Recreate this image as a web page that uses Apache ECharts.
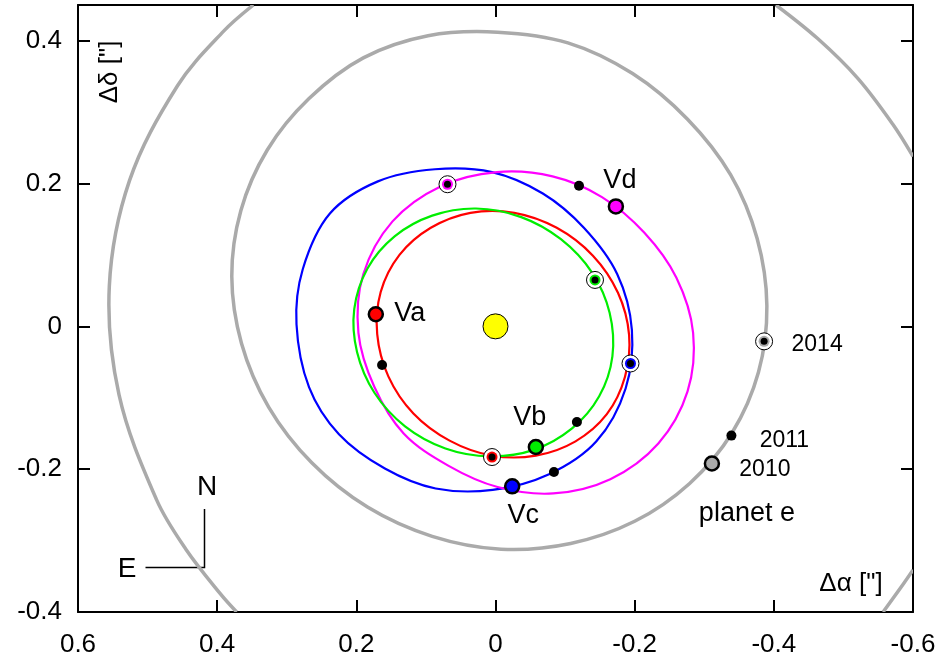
<!DOCTYPE html>
<html><head><meta charset="utf-8">
<script src="https://cdn.jsdelivr.net/npm/echarts@6/dist/echarts.min.js"></script>
<style>html,body{margin:0;padding:0;background:#fff}#c{width:941px;height:658px}</style>
</head><body><div id="c"></div>
<script>
// ---------- data (arcseconds) ----------
const xTickValues = [0.6, 0.4, 0.2, 0, -0.2, -0.4, -0.6];
const yTickValues = [-0.4, -0.2, 0, 0.2, 0.4];

// planet e orbit (inner grey ellipse)
const orbitE = [[-0.340,-0.149],[-0.279,-0.220],[-0.200,-0.273],[-0.108,-0.304],[-0.008,-0.312],[0.091,-0.294],[0.184,-0.253],[0.264,-0.191],[0.326,-0.113],[0.365,-0.024],[0.379,0.070],[0.366,0.162],[0.328,0.247],[0.268,0.319],[0.190,0.376],[0.097,0.407],[-0.003,0.412],[-0.104,0.397],[-0.197,0.354],[-0.276,0.290],[-0.338,0.212],[-0.376,0.123],[-0.390,0.029],[-0.378,-0.064]];
// outer grey ellipse, visible arcs
const outerArcLeft = [[0.348,0.45],[0.391,0.413],[0.457,0.337],[0.526,0.204],[0.555,0.056],[0.541,-0.096],[0.487,-0.243],[0.445,-0.312],[0.395,-0.375],[0.372,-0.4]];
const outerArcTopRight = [[-0.403,0.45],[-0.463,0.403],[-0.521,0.347],[-0.571,0.283],[-0.6,0.238]];
const outerArcBottomRight = [[-0.6,-0.341],[-0.583,-0.365],[-0.557,-0.4]];

// orbits of Va..Vd
const orbitVa = [[-0.160,-0.123],[-0.115,-0.161],[-0.058,-0.181],[0.005,-0.181],[0.066,-0.160],[0.118,-0.122],[0.154,-0.070],[0.170,-0.011],[0.165,0.048],[0.138,0.100],[0.093,0.138],[0.036,0.159],[-0.027,0.159],[-0.088,0.138],[-0.140,0.099],[-0.176,0.047],[-0.192,-0.012],[-0.186,-0.071]];
const orbitVb = [[-0.149,-0.098],[-0.110,-0.143],[-0.055,-0.173],[0.008,-0.182],[0.072,-0.171],[0.130,-0.140],[0.174,-0.093],[0.199,-0.036],[0.203,0.024],[0.184,0.081],[0.145,0.126],[0.091,0.155],[0.028,0.165],[-0.037,0.153],[-0.094,0.122],[-0.139,0.075],[-0.164,0.019],[-0.168,-0.042]];
const orbitVc = [[-0.196,-0.005],[-0.175,0.073],[-0.127,0.138],[-0.068,0.186],[0.005,0.216],[0.087,0.220],[0.169,0.203],[0.238,0.158],[0.277,0.080],[0.286,0.003],[0.268,-0.085],[0.225,-0.151],[0.159,-0.199],[0.086,-0.227],[0.004,-0.229],[-0.077,-0.207],[-0.145,-0.161],[-0.187,-0.087]];
const orbitVd = [[-0.284,-0.009],[-0.260,0.068],[-0.214,0.131],[-0.153,0.181],[-0.082,0.210],[-0.002,0.216],[0.079,0.196],[0.148,0.147],[0.190,0.073],[0.197,-0.009],[0.174,-0.085],[0.132,-0.150],[0.068,-0.195],[-0.003,-0.225],[-0.083,-0.234],[-0.165,-0.214],[-0.234,-0.164],[-0.276,-0.091]];

const sunPos = [[0, 0]];
const planetNames = ['Va', 'Vb', 'Vc', 'Vd'];
const bigDots   = [[0.172,0.017],[-0.058,-0.169],[-0.024,-0.224],[-0.173,0.168]];
const smallDots = [[0.163,-0.054],[-0.117,-0.134],[-0.084,-0.204],[-0.120,0.197]];
const ringDots  = [[0.005,-0.183],[-0.143,0.065],[-0.194,-0.052],[0.069,0.199]];

const yearLabels = ['2010', '2011', '2014'];
const planetEPos = [[-0.311,-0.192],[-0.339,-0.153],[-0.386,-0.021]];
const planetELabel = 'planet e';

// ---------- styles ----------
const FONT = '"Liberation Sans", Arial, Helvetica, sans-serif';
const GREY = '#aaaaaa';
const planetColors = ['#ff0000', '#00ee00', '#0000ff', '#ff00ff'];
const nameOffsets = [[34,-1],[-6,-29],[11,29],[4,-26]];
const yearOffsets = [[53,6],[53,5],[53,3]];

// smooth curve through the read points, positioned by the chart's own axes
function curve(data, color, width, z, closed) {
  return {type:'custom', coordinateSystem:'cartesian2d', xAxisIndex:0, yAxisIndex:0,
    data:data, encode:{x:0, y:1}, silent:true, z:z, clip:true,
    renderItem:function(params, api) {
      if (params.dataIndex !== 0) return null;
      const pts = data.map(p => api.coord(p));
      return {type: closed ? 'polygon' : 'polyline', silent:true,
        shape:{points:pts, smooth:0.35},
        style:{stroke:color, lineWidth:width, fill:'none', lineJoin:'round'}};
    }};
}
function dots(data, size, fill, border, bw, z, extra) {
  return Object.assign({type:'scatter', data:data, symbol:'circle', symbolSize:size, silent:true, z:z,
          itemStyle:{color:fill, borderColor:border, borderWidth:bw, opacity:1}}, extra || {});
}
function textLabel(text, offset, size) {
  return {show:true, position:'inside', offset:offset, formatter:text, fontSize:size,
          fontFamily:FONT, color:'#000', align:'center', verticalAlign:'middle'};
}

const series = [];
series.push(curve(outerArcLeft, GREY, 3.5, 1, false));
series.push(curve(outerArcTopRight, GREY, 3.5, 1, false));
series.push(curve(outerArcBottomRight, GREY, 3.5, 1, false));
series.push(curve(orbitE, GREY, 3.5, 1, true));
series.push(curve(orbitVc, planetColors[2], 2.2, 2, true));
series.push(curve(orbitVd, planetColors[3], 2.2, 2, true));
series.push(curve(orbitVa, planetColors[0], 2.2, 2, true));
series.push(curve(orbitVb, planetColors[1], 2.2, 2, true));

// sun
series.push(dots(sunPos, 25, '#ffff00', '#000', 1, 5));

// ringed positions
const ringAll = ringDots.concat([planetEPos[2]]);
const ringColors = planetColors.concat([GREY]);
series.push(dots(ringAll, 17, '#ffffff', '#000', 1, 6));
ringAll.forEach((p, i) => series.push(dots([p], 11, ringColors[i], ringColors[i], 0, 7)));
series.push(dots(ringAll, 7, '#000', '#000', 0, 8));

// small black dots
series.push(dots(smallDots.concat([planetEPos[1]]), 10, '#000', '#000', 0, 8));

// big dots with names
bigDots.forEach((p, i) => series.push(dots([p], 14, planetColors[i], '#000', 2.5, 9,
  {label: textLabel(planetNames[i], nameOffsets[i], 27)})));
series.push(dots([planetEPos[0]], 14, GREY, '#000', 2.5, 9));

// year labels and planet e label (invisible anchors)
planetEPos.forEach((p, i) => series.push(dots([p], 0, 'rgba(0,0,0,0)', 'rgba(0,0,0,0)', 0, 10,
  {label: textLabel(yearLabels[i], yearOffsets[i], 23)})));
series.push(dots([planetEPos[0]], 0, 'rgba(0,0,0,0)', 'rgba(0,0,0,0)', 0, 10,
  {label: textLabel(planetELabel, [35, 50], 27)}));

const axisLineStyle = {show:true, onZero:false, lineStyle:{color:'#000', width:2}};
const tickStyle = {show:true, inside:true, length:12, lineStyle:{color:'#000', width:2}};
const labelStyle = {fontSize:26, color:'#000', fontFamily:FONT};

function xAx(pos, showLabel) {
  return {type:'value', position:pos, min:xTickValues[xTickValues.length-1], max:xTickValues[0], interval:0.2,
    inverse:true, axisLine:axisLineStyle, axisTick:tickStyle, splitLine:{show:false},
    axisLabel:Object.assign({show:showLabel, margin:20}, labelStyle)};
}
function yAx(pos, showLabel) {
  return {type:'value', position:pos, min:yTickValues[0], max:0.45, interval:0.2,
    axisLine:axisLineStyle, axisTick:tickStyle, splitLine:{show:false},
    axisLabel:Object.assign({show:showLabel, margin:16, showMaxLabel:false}, labelStyle)};
}

const chart = echarts.init(document.getElementById('c'));
chart.setOption({
  animation:false,
  backgroundColor:'#ffffff',
  grid:{left:78, right:28, top:5, bottom:44, containLabel:false},
  xAxis:[xAx('bottom', true), xAx('top', false)],
  yAxis:[yAx('left', true), yAx('right', false)],
  series:series,
  graphic:[
    {type:'text', x:851, y:584, silent:true, style:{text:'\u0394\u03b1 ["]', fontSize:26, fontFamily:FONT, fill:'#000', align:'center', verticalAlign:'middle'}},
    {type:'text', x:110, y:72, rotation:Math.PI/2, silent:true, style:{text:'\u0394\u03b4 ["]', fontSize:26, fontFamily:FONT, fill:'#000', align:'center', verticalAlign:'middle'}},
    {type:'text', x:207, y:487, silent:true, style:{text:'N', fontSize:28, fontFamily:FONT, fill:'#000', align:'center', verticalAlign:'middle'}},
    {type:'text', x:127, y:569, silent:true, style:{text:'E', fontSize:28, fontFamily:FONT, fill:'#000', align:'center', verticalAlign:'middle'}},
    {type:'polyline', silent:true, shape:{points:[[145.5,567.5],[204.5,567.5],[204.5,509]]}, style:{stroke:'#000', lineWidth:1.5, fill:null}}
  ]
});
</script></body></html>
